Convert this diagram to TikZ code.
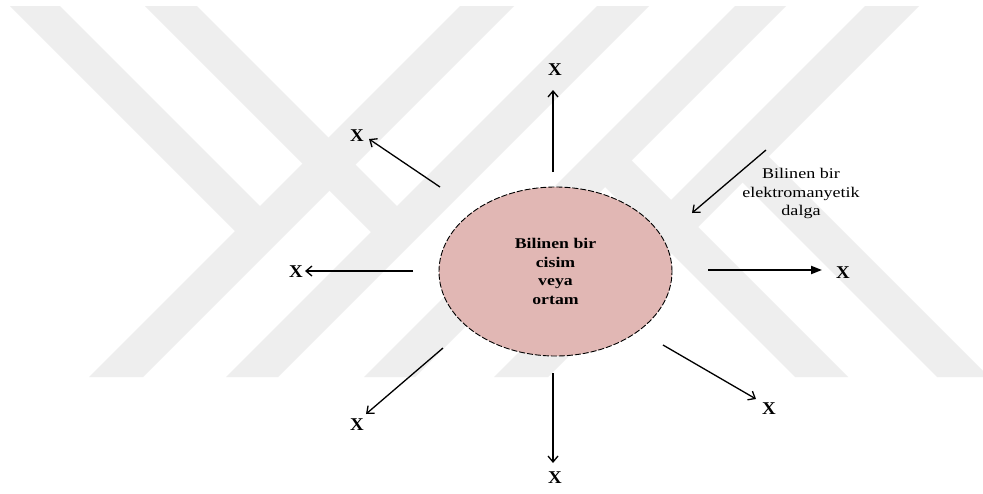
\documentclass[tikz,border=0pt]{standalone}
\usepackage{graphicx}
\usepackage{fontspec}
\setmainfont{Liberation Serif}[FakeStretch=1.2]
\newfontfamily\plainserif{Liberation Serif}
\newfontfamily\xfont{Liberation Serif}[FakeStretch=1.05]
\newcommand{\wideline}[1]{\scalebox{1.22}[1]{#1}}
\usetikzlibrary{arrows.meta,shapes.geometric}
\definecolor{wm}{RGB}{238,238,238}
\definecolor{bodyfill}{RGB}{225,183,180}
\begin{document}
\begin{tikzpicture}[x=1pt,y=-1pt,
  band/.style={fill=wm,draw=none},
  ray/.style={line width=1.3pt,-{Straight Barb[length=6pt,width=10pt]}},
  bigray/.style={line width=2pt,-{Triangle[length=11pt,width=8pt]}},
  xlab/.style={inner sep=0pt,font=\xfont\bfseries\fontsize{18}{21}\selectfont},
  body/.style={ellipse,draw,fill=bodyfill,line width=0.9pt,dash pattern=on 6pt off 2pt,
    minimum width=233pt,minimum height=169pt,inner sep=0pt,align=center,
    font=\bfseries\fontsize{14.8}{18.5}\selectfont},
  wavetext/.style={inner sep=0pt,align=center,font=\plainserif\fontsize{14.8}{18.5}\selectfont}
]
\useasboundingbox (0,0) rectangle (983,493);
\fill[white] (0,0) rectangle (983,493);
% watermark bands
\fill[band] (460,6) -- (514,6) -- (143,377) -- (89,377) -- cycle;
\fill[band] (597,6) -- (649,6) -- (278,377) -- (226,377) -- cycle;
\fill[band] (735,6) -- (786,6) -- (415,377) -- (364,377) -- cycle;
\fill[band] (865,6) -- (919,6) -- (548,377) -- (494,377) -- cycle;
\fill[band] (10,6) -- (60,6) -- (273.5,219.5) -- (248.5,244.5) -- cycle;
\fill[band] (145,6) -- (197,6) -- (410,219) -- (384,245) -- cycle;
\fill[band] (592,174) -- (618.5,147.5) -- (848,377) -- (795,377) -- cycle;
\fill[band] (729,169) -- (755,143) -- (989,377) -- (937,377) -- cycle;

% central body
\node[body] (obj) at (555.5,271.5) {Bilinen bir\\cisim\\veya\\ortam};

% labels
\node[xlab] (xu)  at (555,70)  {X};
\node[xlab] (xul) at (357,136) {X};
\node[xlab] (xl)  at (296,272) {X};
\node[xlab] (xll) at (357,425) {X};
\node[xlab] (xd)  at (555,478) {X};
\node[xlab] (xlr) at (769,409) {X};
\node[xlab] (xr)  at (843,273) {X};
\node[wavetext] (wave) at (801,193.5)
  {\wideline{Bilinen bir}\\\wideline{elektromanyetik}\\\wideline{dalga}};

% arrow end points
\coordinate (su)  at (553,172); \coordinate (tu)  at (553,90);
\coordinate (sul) at (440,187); \coordinate (tul) at (369,139);
\coordinate (sl)  at (413,271); \coordinate (tl)  at (305,271);
\coordinate (sll) at (443,348); \coordinate (tll) at (366,414);
\coordinate (sd)  at (553,373); \coordinate (td)  at (553,463);
\coordinate (slr) at (663,345); \coordinate (tlr) at (756,399);
\coordinate (sr)  at (708,270); \coordinate (tr)  at (822,270);
\coordinate (sw)  at (766,150); \coordinate (tw)  at (692,213);

\draw[ray] (su) -- (tu);
\draw[ray] (sul) -- (tul);
\draw[ray] (sl) -- (tl);
\draw[ray] (sll) -- (tll);
\draw[ray] (sd) -- (td);
\draw[ray] (slr) -- (tlr);
\draw[bigray] (sr) -- (tr);
\draw[ray] (sw) -- (tw);
\end{tikzpicture}
\end{document}
